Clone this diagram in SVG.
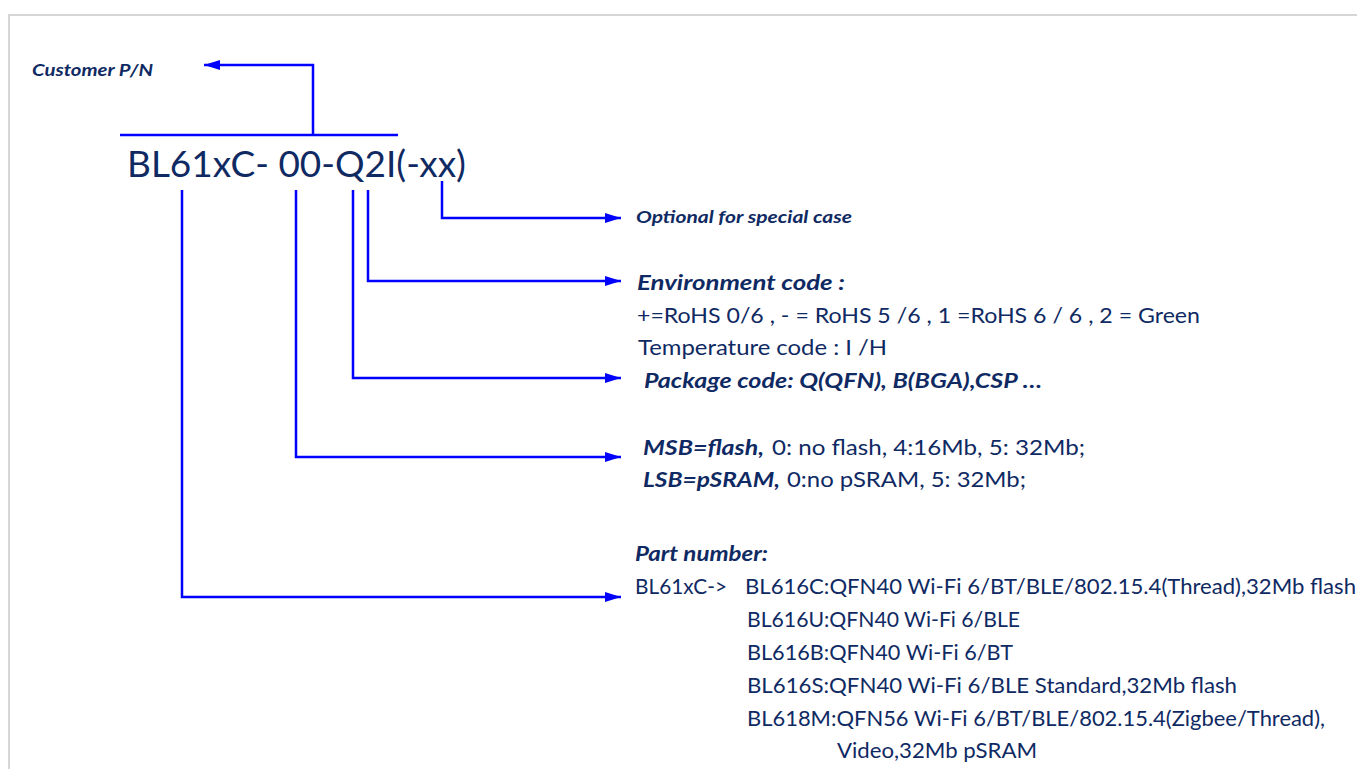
<svg xmlns="http://www.w3.org/2000/svg" width="1357" height="769" viewBox="0 0 1357 769">
<defs>
<marker id="ah" viewBox="0 0 16 10" refX="16" refY="5" markerWidth="16" markerHeight="10" markerUnits="userSpaceOnUse" orient="auto">
<path d="M0,0 L16,5 L0,10 z" fill="#0000ff"/>
</marker>
<style>
.t{font-family:Lato,"Open Sans","Liberation Sans",sans-serif;fill:#0f2a63;}
.r{font-size:21px;}
.bi{font-weight:bold;font-style:italic;}
.ln{fill:none;stroke:#0000ff;stroke-width:2.5;}
</style>
</defs>
<rect x="0" y="0" width="1357" height="769" fill="#ffffff"/>
<path d="M9,770 L9,15 L1360,15" fill="none" stroke="#d6d6d6" stroke-width="2"/>

<g id="customer">
<text class="t bi" x="32" y="76" font-size="17" textLength="121" lengthAdjust="spacingAndGlyphs">Customer P/N</text>
</g>
<g id="partcode">
<text class="t" x="127" y="177" font-size="36" textLength="339" lengthAdjust="spacingAndGlyphs">BL61xC- 00-Q2I(-xx)</text>
</g>
<g id="optional">
<text class="t bi" x="636" y="223" font-size="17" textLength="216" lengthAdjust="spacingAndGlyphs">Optional for special case</text>
</g>
<g id="environment">
<text class="t bi" x="637" y="290" font-size="21" textLength="208" lengthAdjust="spacingAndGlyphs">Environment code :</text>
<text class="t r" x="637" y="323" textLength="563" lengthAdjust="spacingAndGlyphs">+=RoHS 0/6 , - = RoHS 5 /6 , 1 =RoHS 6 / 6 , 2 = Green</text>
<text class="t r" x="638" y="355" textLength="249" lengthAdjust="spacingAndGlyphs">Temperature code : I /H</text>
</g>
<g id="package">
<text class="t bi" x="644" y="388" font-size="21" textLength="398" lengthAdjust="spacingAndGlyphs">Package code: Q(QFN), B(BGA),CSP …</text>
</g>
<g id="memory">
<text class="t bi" x="643" y="455" font-size="21" textLength="121" lengthAdjust="spacingAndGlyphs">MSB=flash,</text>
<text class="t r" x="772" y="455" textLength="313" lengthAdjust="spacingAndGlyphs">0: no flash, 4:16Mb, 5: 32Mb;</text>
<text class="t bi" x="643" y="487" font-size="21" textLength="137" lengthAdjust="spacingAndGlyphs">LSB=pSRAM,</text>
<text class="t r" x="787" y="487" textLength="239" lengthAdjust="spacingAndGlyphs">0:no pSRAM, 5: 32Mb;</text>
</g>
<g id="partnumber">
<text class="t bi" x="635" y="561" font-size="21" textLength="133" lengthAdjust="spacingAndGlyphs">Part number:</text>
<text class="t r" x="635" y="594" textLength="92" lengthAdjust="spacingAndGlyphs">BL61xC-&gt;</text>
<text class="t r" x="745" y="594" textLength="611" lengthAdjust="spacingAndGlyphs">BL616C:QFN40  Wi-Fi 6/BT/BLE/802.15.4(Thread),32Mb flash</text>
<text class="t r" x="747" y="627" textLength="273" lengthAdjust="spacingAndGlyphs">BL616U:QFN40 Wi-Fi 6/BLE</text>
<text class="t r" x="747" y="660" textLength="266" lengthAdjust="spacingAndGlyphs">BL616B:QFN40  Wi-Fi 6/BT</text>
<text class="t r" x="747" y="693" textLength="490" lengthAdjust="spacingAndGlyphs">BL616S:QFN40  Wi-Fi 6/BLE Standard,32Mb flash</text>
<text class="t r" x="747" y="726" textLength="578" lengthAdjust="spacingAndGlyphs">BL618M:QFN56 Wi-Fi 6/BT/BLE/802.15.4(Zigbee/Thread),</text>
<text class="t r" x="837" y="758" textLength="200" lengthAdjust="spacingAndGlyphs">Video,32Mb pSRAM</text>
</g>

<g id="connectors">
<line class="ln" x1="120" y1="135" x2="398" y2="135"/>
<path class="ln" d="M313,136 L313,65 L204,65" marker-end="url(#ah)"/>
<path class="ln" d="M442,181 L442,218 L621,218" marker-end="url(#ah)"/>
<path class="ln" d="M368,190 L368,281 L621,281" marker-end="url(#ah)"/>
<path class="ln" d="M353,190 L353,378 L621,378" marker-end="url(#ah)"/>
<path class="ln" d="M296,190 L296,457 L621,457" marker-end="url(#ah)"/>
<path class="ln" d="M182,190 L182,597 L621,597" marker-end="url(#ah)"/>
</g>
</svg>
